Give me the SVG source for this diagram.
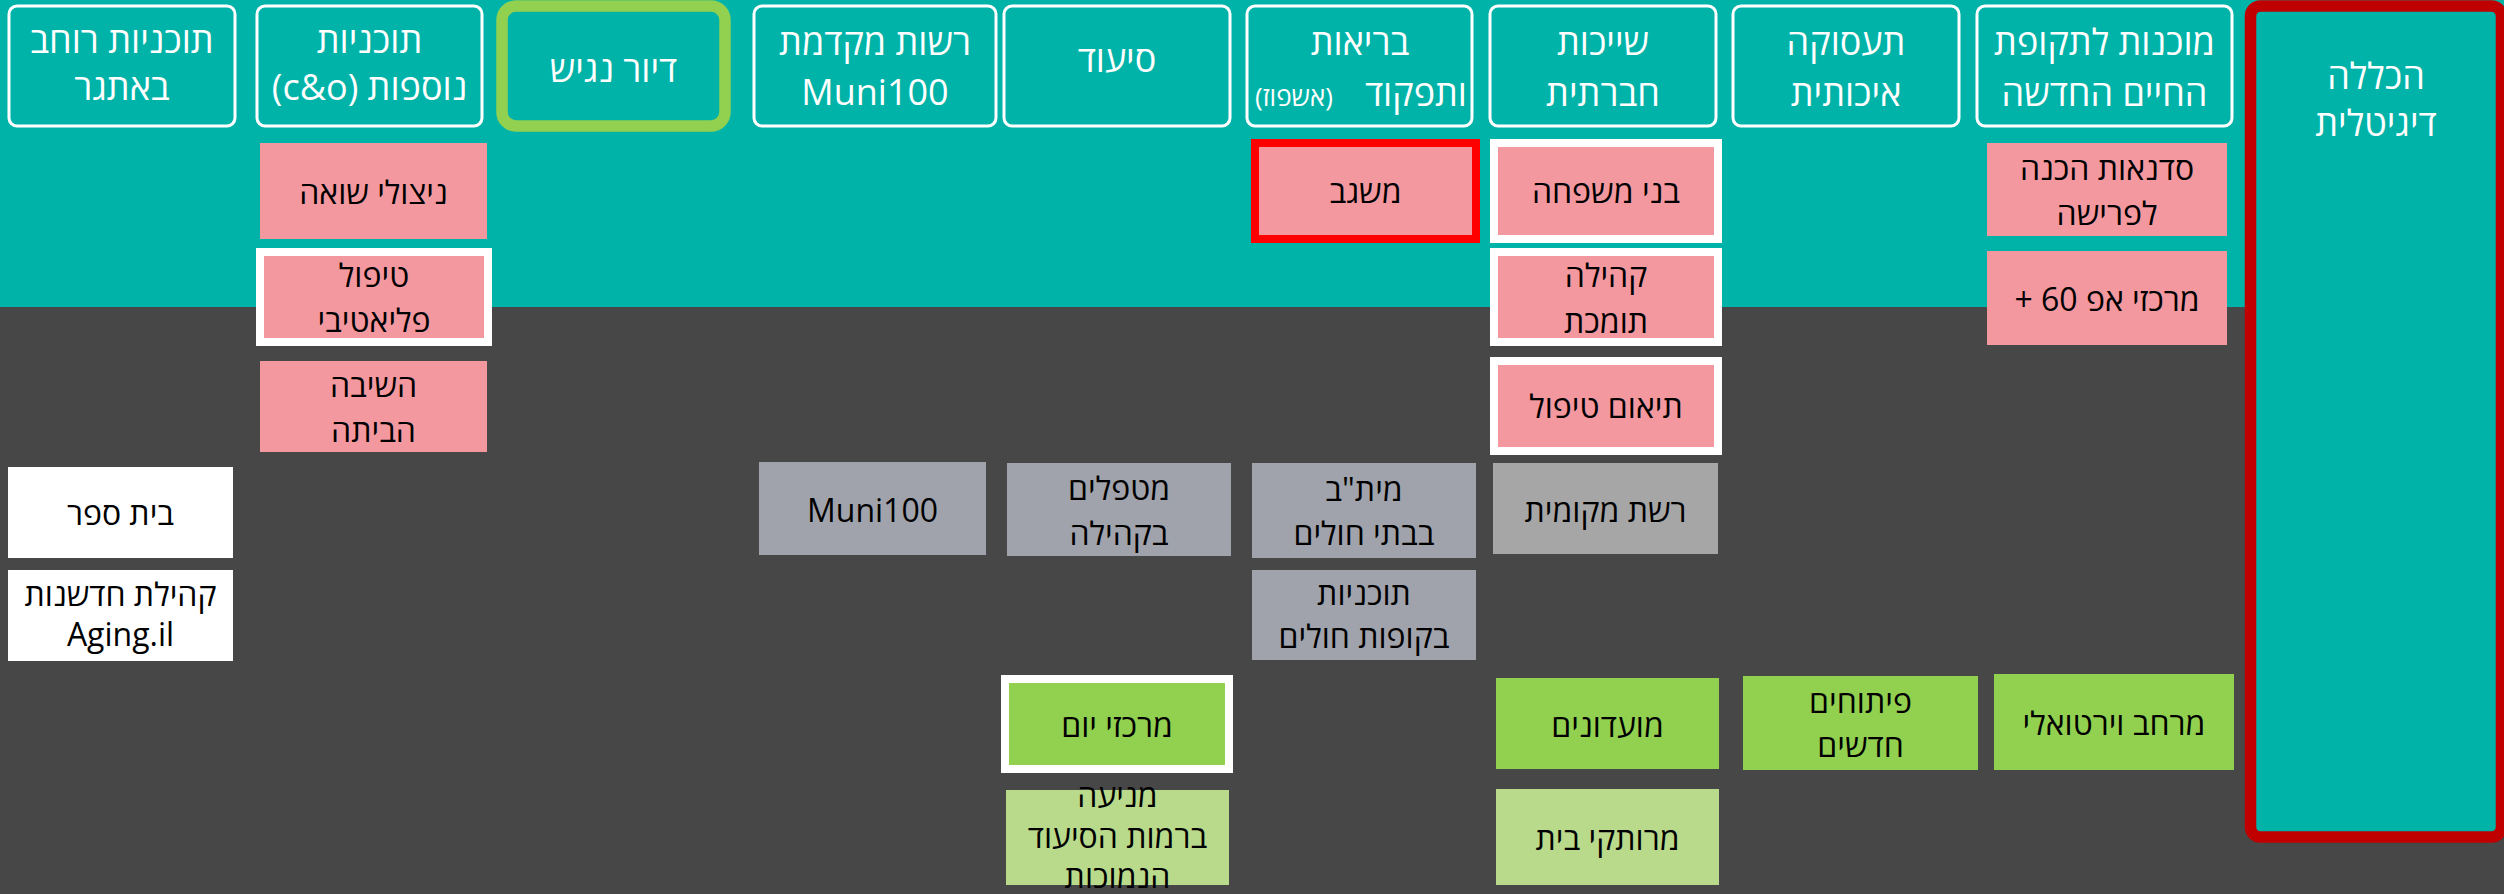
<svg xmlns="http://www.w3.org/2000/svg" width="2504" height="894" viewBox="0 0 2504 894">
<style>
text{font-family:"Open Sans","Liberation Sans","DejaVu Sans",sans-serif;text-anchor:middle;direction:rtl}
.ht{fill:#fff;font-size:36px}
.bt{fill:#000;font-size:32px}
.hdr{fill:none;stroke:#fff;stroke-width:3}
.pink{fill:#F4989F}
.gray{fill:#A0A3AB}
.green{fill:#92D050}
.lgreen{fill:#B9D98B}
.white{fill:#fff}
.wb{stroke:#fff;stroke-width:8}
</style>
<rect x="0" y="0" width="2504" height="894" fill="#474747"/>
<rect x="0" y="0" width="2504" height="307" fill="#00B3A8"/>

<g id="h1"><rect class="hdr" x="9" y="6" width="226" height="120" rx="8"/><text class="ht" x="122" y="53">תוכניות רוחב</text><text class="ht" x="122" y="100">באתגר</text></g>
<g id="h2"><rect class="hdr" x="257" y="6" width="225" height="120" rx="8"/><text class="ht" x="369.5" y="53">תוכניות</text><text class="ht" x="369.5" y="100">נוספות (c&amp;o)</text></g>
<g id="h3"><rect x="502" y="6" width="223" height="120" rx="14" fill="none" stroke="#92D050" stroke-width="11.5"/><text class="ht" x="613.5" y="82">דיור נגיש</text></g>
<g id="h4"><rect class="hdr" x="754" y="6" width="242" height="120" rx="8"/><text class="ht" x="875" y="55">רשות מקדמת</text><text class="ht" x="875" y="105">Muni100</text></g>
<g id="h5"><rect class="hdr" x="1004" y="6" width="226" height="120" rx="8"/><text class="ht" x="1117" y="72">סיעוד</text></g>
<g id="h6"><rect class="hdr" x="1247" y="6" width="225" height="120" rx="8"/><text class="ht" x="1360" y="55">בריאות</text><text class="ht" x="1467" y="106" style="text-anchor:start">ותפקוד</text><text class="ht" x="1255" y="106" style="text-anchor:end;font-size:26px">(אשפוז)</text></g>
<g id="h7"><rect class="hdr" x="1490" y="6" width="226" height="120" rx="8"/><text class="ht" x="1603" y="55">שייכות</text><text class="ht" x="1603" y="106">חברתית</text></g>
<g id="h8"><rect class="hdr" x="1733" y="6" width="226" height="120" rx="8"/><text class="ht" x="1846" y="55">תעסוקה</text><text class="ht" x="1846" y="106">איכותית</text></g>
<g id="h9"><rect class="hdr" x="1977" y="6" width="255" height="120" rx="8"/><text class="ht" x="2104.5" y="55">מוכנות לתקופת</text><text class="ht" x="2104.5" y="106">החיים החדשה</text></g>
<g id="h10"><rect x="2250.5" y="6" width="251" height="831" rx="10" fill="#00B3A8" stroke="#C00000" stroke-width="11.5"/><text class="ht" x="2376" y="89">הכללה</text><text class="ht" x="2376" y="136">דיגיטלית</text></g>

<g id="n-nitzulei"><rect class="pink" x="260" y="143" width="227" height="96"/><text class="bt" x="373.5" y="204">ניצולי שואה</text></g>
<g id="n-paliativi"><rect class="pink wb" x="260" y="252" width="228" height="90"/><text class="bt" x="374" y="287">טיפול</text><text class="bt" x="374" y="332">פליאטיבי</text></g>
<g id="n-hashiva"><rect class="pink" x="260" y="361" width="227" height="91"/><text class="bt" x="373.5" y="397">השיבה</text><text class="bt" x="373.5" y="442">הביתה</text></g>
<g id="n-mishgav"><rect class="pink" x="1255" y="143" width="221" height="96" stroke="#FF0000" stroke-width="8"/><text class="bt" x="1365.5" y="203">משגב</text></g>
<g id="n-bnei"><rect class="pink wb" x="1494" y="143" width="224" height="96"/><text class="bt" x="1606" y="203">בני משפחה</text></g>
<g id="n-kehila"><rect class="pink wb" x="1494" y="252" width="224" height="90"/><text class="bt" x="1606" y="287">קהילה</text><text class="bt" x="1606" y="333">תומכת</text></g>
<g id="n-teum"><rect class="pink wb" x="1494" y="361" width="224" height="90"/><text class="bt" x="1606" y="418">תיאום טיפול</text></g>
<g id="n-sadnaot"><rect class="pink" x="1987" y="143" width="240" height="93"/><text class="bt" x="2107" y="180">סדנאות הכנה</text><text class="bt" x="2107" y="225">לפרישה</text></g>
<g id="n-af60"><rect class="pink" x="1987" y="251" width="240" height="94"/><text class="bt" x="2107" y="311">מרכזי אפ 60 +</text></g>

<g id="n-beitsefer"><rect class="white" x="8" y="467" width="225" height="91"/><text class="bt" x="120.5" y="525">בית ספר</text></g>
<g id="n-aging"><rect class="white" x="8" y="570" width="225" height="91"/><text class="bt" x="120.5" y="606">קהילת חדשנות</text><text class="bt" x="120.5" y="646">Aging.il</text></g>
<g id="n-muni"><rect class="gray" x="759" y="462" width="227" height="93"/><text class="bt" x="872.5" y="522">Muni100</text></g>
<g id="n-metaplim"><rect class="gray" x="1007" y="463" width="224" height="93"/><text class="bt" x="1119" y="500">מטפלים</text><text class="bt" x="1119" y="545">בקהילה</text></g>
<g id="n-mitav"><rect class="gray" x="1252" y="463" width="224" height="95"/><text class="bt" x="1364" y="501">מית"ב</text><text class="bt" x="1364" y="545">בבתי חולים</text></g>
<g id="n-reshet"><rect x="1493" y="463" width="225" height="91" fill="#A6A6A6"/><text class="bt" x="1605.5" y="522">רשת מקומית</text></g>
<g id="n-kupot"><rect class="gray" x="1252" y="570" width="224" height="90"/><text class="bt" x="1364" y="605">תוכניות</text><text class="bt" x="1364" y="648">בקופות חולים</text></g>

<g id="n-merkazei"><rect class="green wb" x="1005" y="679" width="224" height="90"/><text class="bt" x="1117" y="737">מרכזי יום</text></g>
<g id="n-moadonim"><rect class="green" x="1496" y="678" width="223" height="91"/><text class="bt" x="1607.5" y="737">מועדונים</text></g>
<g id="n-pituchim"><rect class="green" x="1743" y="676" width="235" height="94"/><text class="bt" x="1860.5" y="713">פיתוחים</text><text class="bt" x="1860.5" y="757">חדשים</text></g>
<g id="n-merchav"><rect class="green" x="1994" y="674" width="240" height="96"/><text class="bt" x="2114" y="735">מרחב וירטואלי</text></g>
<g id="n-menia"><rect class="lgreen" x="1006" y="790" width="223" height="95"/><text class="bt" x="1117.5" y="807">מניעה</text><text class="bt" x="1117.5" y="848">ברמות הסיעוד</text><text class="bt" x="1117.5" y="888">הנמוכות</text></g>
<g id="n-merutakei"><rect class="lgreen" x="1496" y="789" width="223" height="96"/><text class="bt" x="1607.5" y="850">מרותקי בית</text></g>

<g id="connectors"/>
</svg>
